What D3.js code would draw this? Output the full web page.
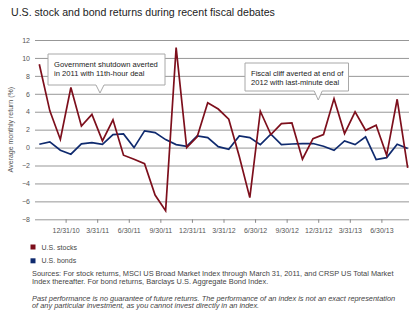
<!DOCTYPE html>
<html>
<head>
<meta charset="utf-8">
<script src="https://cdn.jsdelivr.net/npm/d3@7"></script>
<style>
  html, body { margin: 0; padding: 0; background: #fff; }
  svg { display: block; }
  text { font-family: "Liberation Sans", Arial, Helvetica, sans-serif; }
</style>
</head>
<body>
<svg id="chart" width="409" height="322"></svg>
<script>
// Month-end observations, Sep 2010 – Aug 2013
const months = [
  "2010-09","2010-10","2010-11","2010-12",
  "2011-01","2011-02","2011-03","2011-04","2011-05","2011-06",
  "2011-07","2011-08","2011-09","2011-10","2011-11","2011-12",
  "2012-01","2012-02","2012-03","2012-04","2012-05","2012-06",
  "2012-07","2012-08","2012-09","2012-10","2012-11","2012-12",
  "2013-01","2013-02","2013-03","2013-04","2013-05","2013-06",
  "2013-07","2013-08"
];

// Average monthly return (%)
const stocks = [
  9.3, 4.1, 0.9, 6.7,
  2.4, 3.7, 0.75, 3.1, -0.85, -1.3,
  -1.8, -5.3, -7.05, 11.15, 0.0, 1.2,
  5.0, 4.3, 3.16, -1.0, -5.58, 4.05,
  1.45, 2.68, 2.75, -1.3, 1.0, 1.45,
  5.46, 1.56, 3.98, 1.93, 2.5, -0.86,
  5.39, -2.27
];
const bonds = [
  0.37, 0.63, -0.3, -0.74,
  0.41, 0.56, 0.37, 1.45, 1.52, 0.0,
  1.86, 1.67, 0.89, 0.33, 0.15, 1.3,
  1.12, 0.1, -0.19, 1.3, 1.12, 0.33,
  1.49, 0.33, 0.4, 0.45, 0.45, 0.15,
  -0.3, 0.74, 0.33, 1.19, -1.34, -1.12,
  0.37, -0.1
];

const yTicks = [-8, -6, -4, -2, 0, 2, 4, 6, 8, 10, 12];
const xTickLabels = ["12/31/10","3/31/11","6/30/11","9/30/11","12/31/11","3/31/12",
                     "6/30/12","9/30/12","12/31/12","3/31/13","6/30/13"];

const seriesNames = ["U.S. stocks", "U.S. bonds"];
const seriesColors = ["#7d0f1c", "#0f2a6e"];

// event annotations, each pointing at the date of the deal
const callouts = [
  { lines: ["Government shutdown averted", "in 2011 with 11th-hour deal"], date: "4/8/11" },
  { lines: ["Fiscal cliff averted at end of", "2012 with last-minute deal"], date: "12/31/12" }
];

const title = "U.S. stock and bond returns during recent fiscal debates";
const yLabel = "Average monthly return (%)";
const sources = [
  "Sources: For stock returns, MSCI US Broad Market Index through March 31, 2011, and CRSP US Total Market",
  "Index thereafter. For bond returns, Barclays U.S. Aggregate Bond Index."
];
const disclaimer = [
  "Past performance is no guarantee of future returns. The performance of an index is not an exact representation",
  "of any  particular investment, as you cannot invest directly in an index."
];

// ---- drawing ----
const svg = d3.select("#chart");
const plot = { left: 35, right: 409, top: 40, bottom: 219.3 };

const x = d3.scaleLinear().domain([0, months.length - 1]).range([39.3, 407.7]);
const y = d3.scaleLinear().domain([-8, 12]).range([plot.bottom, plot.top]);

// Category-style axis: the tick for a date sits on the boundary after the
// category of the month it closes; days inside a month interpolate from the
// previous boundary.
const parseDate = d3.timeParse("%m/%d/%y");
const fmtMonth = d3.timeFormat("%Y-%m");
function datePos(str) {
  const d = parseDate(str);
  const i = months.indexOf(fmtMonth(d));
  const daysInMonth = new Date(d.getFullYear(), d.getMonth() + 1, 0).getDate();
  return i - 1.5 + d.getDate() / daysInMonth;
}
const xTicks = xTickLabels.map(l => ({ label: l, pos: datePos(l) }));

svg.append("text")
  .attr("x", 11).attr("y", 16)
  .attr("font-size", 10.6).attr("fill", "#222")
  .text(title);

// horizontal gridlines
const yAxis = d3.axisLeft(y).tickValues(yTicks).tickSize(-(plot.right - plot.left)).tickPadding(5)
  .tickFormat(d => d < 0 ? "\u2212" + Math.abs(d) : d);
const gy = svg.append("g").attr("transform", `translate(${plot.left},0)`).call(yAxis);
gy.select(".domain").remove();
gy.selectAll(".tick line").attr("stroke", "#979797").attr("stroke-width", 1);
gy.selectAll(".tick text").attr("font-size", 7).attr("fill", "#555").attr("font-family", null);

// x ticks
const xAxis = d3.axisBottom(x).tickValues(xTicks.map(t => t.pos))
  .tickFormat((d, i) => xTicks[i].label).tickSize(3.5).tickPadding(5);
const gx = svg.append("g").attr("transform", `translate(0,${plot.bottom})`).call(xAxis);
gx.select(".domain").remove();
gx.selectAll(".tick line").attr("stroke", "#888");
gx.selectAll(".tick text").attr("font-size", 7).attr("fill", "#555").attr("font-family", null);

// y-axis title
svg.append("text")
  .attr("transform", `translate(12.5,${(plot.top + plot.bottom) / 2}) rotate(-90)`)
  .attr("text-anchor", "middle").attr("font-size", 7).attr("fill", "#555")
  .text(yLabel);

// series lines (bonds underneath stocks)
const line = d3.line().x((d, i) => x(i)).y(d => y(d));
[[bonds, 1], [stocks, 0]].forEach(([s, idx]) => {
  svg.append("path").datum(s)
    .attr("d", line)
    .attr("fill", "none")
    .attr("stroke", seriesColors[idx])
    .attr("stroke-width", 1.7)
    .attr("stroke-linejoin", "miter");
});

// callout boxes with a downward pointer
const boxes = [
  { x0: 48, x1: 165, y0: 54, y1: 85, tip: 93 },
  { x0: 245, x1: 348.5, y0: 63, y1: 91, tip: 100 }
];
callouts.forEach((c, i) => {
  const b = boxes[i];
  const px = x(datePos(c.date));
  const p = d3.path();
  p.moveTo(b.x0, b.y0); p.lineTo(b.x1, b.y0); p.lineTo(b.x1, b.y1);
  p.lineTo(px + 4, b.y1); p.lineTo(px, b.tip); p.lineTo(px - 4, b.y1);
  p.lineTo(b.x0, b.y1); p.closePath();
  svg.append("path").attr("d", p.toString())
    .attr("fill", "#fff").attr("stroke", "#a8a8a8").attr("stroke-width", 1);
  svg.append("text")
    .attr("x", b.x0 + 6).attr("y", b.y0 + 12.5)
    .attr("font-size", 7.6).attr("fill", "#222")
    .selectAll("tspan").data(c.lines).join("tspan")
    .attr("x", b.x0 + 6).attr("dy", (d, j) => j === 0 ? 0 : 9.6)
    .text(d => d);
});

// legend
const lg = svg.append("g");
seriesNames.forEach((n, i) => {
  lg.append("rect").attr("x", 30.5).attr("y", 244.5 + i * 13.8).attr("width", 5).attr("height", 5)
    .attr("fill", seriesColors[i]);
  lg.append("text").attr("x", 41.5).attr("y", 249.5 + i * 13.8)
    .attr("font-size", 7).attr("fill", "#444").text(n);
});

// notes
sources.forEach((t, i) => {
  svg.append("text").attr("x", 32).attr("y", 276 + i * 7.8)
    .attr("font-size", 7.4).attr("fill", "#444").text(t);
});
disclaimer.forEach((t, i) => {
  svg.append("text").attr("x", 32).attr("y", 300.5 + i * 7.8)
    .attr("font-size", 7.4).attr("font-style", "italic").attr("fill", "#444").text(t);
});
</script>
</body>
</html>
